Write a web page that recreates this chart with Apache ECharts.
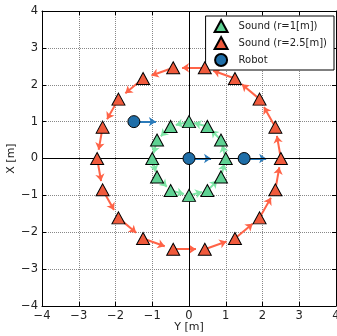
<!DOCTYPE html>
<html>
<head>
<meta charset="utf-8">
<script src="https://cdn.jsdelivr.net/npm/echarts@6/dist/echarts.min.js"></script>
<style>
  html, body { margin: 0; padding: 0; background: #fff; }
  #chart { width: 337px; height: 336px; }
</style>
</head>
<body>
<div id="chart"></div>
<script>
// axis ticks
var tickValues = [-4, -3, -2, -1, 0, 1, 2, 3, 4];

// sound sources on r=1 circle, counter-clockwise order (horizontal = Y, vertical = X)
var soundR1Y = [1, 0.87, 0.5, 0, -0.5, -0.87, -1, -0.87, -0.5, 0, 0.5, 0.87];
var soundR1X = [0, 0.5, 0.87, 1, 0.87, 0.5, 0, -0.5, -0.87, -1, -0.87, -0.5];

// sound sources on r=2.5 circle
var soundR25Y = [2.5, 2.35, 1.92, 1.25, 0.43, -0.43, -1.25, -1.92, -2.35, -2.5, -2.35, -1.92, -1.25, -0.43, 0.43, 1.25, 1.92, 2.35];
var soundR25X = [0, 0.85, 1.61, 2.17, 2.46, 2.46, 2.17, 1.61, 0.85, 0, -0.85, -1.61, -2.17, -2.46, -2.46, -2.17, -1.61, -0.85];

// robots and their heading vectors
var robotY = [-1.5, 0, 1.5];
var robotX = [1, 0, 0];
var robotDY = [0.6, 0.6, 0.6];
var robotDX = [0, 0, 0];

var font = 'DejaVu Sans';

function points(ys, xs) {
  return ys.map(function (v, i) { return [v, xs[i]]; });
}

// arrow from each source toward the next one on its circle
function ringArrows(ys, xs) {
  var out = [];
  for (var i = 0; i < ys.length; i++) {
    var j = (i + 1) % ys.length;
    out.push({ coords: [[ys[i], xs[i]], [ys[i] + 0.72 * (ys[j] - ys[i]), xs[i] + 0.72 * (xs[j] - xs[i])]] });
  }
  return out;
}

function robotArrows() {
  return robotY.map(function (v, i) {
    return { coords: [[v, robotX[i]], [v + robotDY[i], robotX[i] + robotDX[i]]] };
  });
}

var chart = echarts.init(document.getElementById('chart'));

var baseAxis = {
  type: 'value', min: -4, max: 4, interval: 1,
  axisLine: { show: true, onZero: false, lineStyle: { color: '#000', width: 1 } },
  axisTick: { show: true, inside: true, length: 4, lineStyle: { color: '#000' } },
  splitLine: { show: false },
  axisLabel: {
    color: '#222', fontFamily: font, fontSize: 11.5, margin: 4,
    formatter: function (v) { return v < 0 ? '\u2212' + Math.abs(v) : '' + v; }
  }
};

var option = {
  backgroundColor: '#fff',
  animation: false,
  grid: { left: 42, top: 11, right: 1, bottom: 30, show: false, containLabel: false, outerBoundsMode: 'none' },
  legend: {
    orient: 'vertical', right: 3, top: 16,
    padding: [3, 7, 3, 8], itemGap: 3,
    borderColor: '#000', borderWidth: 1, backgroundColor: '#fff',
    itemWidth: 13, itemHeight: 12,
    textStyle: { fontFamily: font, fontSize: 10, color: '#222', padding: [0, 0, 0, 6] },
    data: ['Sound (r=1[m])', 'Sound (r=2.5[m])', 'Robot']
  },
  xAxis: [
    Object.assign({}, baseAxis, {
      position: 'bottom',
      name: 'Y [m]', nameLocation: 'middle', nameGap: 16, nameMoveOverlap: false,
      nameTextStyle: { fontFamily: font, fontSize: 11, color: '#222', verticalAlign: 'top' },
      splitLine: { show: true, lineStyle: { type: 'dotted', color: '#888', width: 1 } }
    }),
    Object.assign({}, baseAxis, { position: 'top', axisLabel: { show: false } })
  ],
  yAxis: [
    Object.assign({}, baseAxis, {
      position: 'left',
      name: 'X [m]', nameLocation: 'middle', nameGap: 25, nameRotate: 90, nameMoveOverlap: false,
      nameTextStyle: { fontFamily: font, fontSize: 11, color: '#222' },
      splitLine: { show: true, lineStyle: { type: 'dotted', color: '#888', width: 1 } }
    }),
    Object.assign({}, baseAxis, { position: 'right', axisLabel: { show: false } })
  ],
  series: [
    {
      type: 'lines', coordinateSystem: 'cartesian2d', z: 3,
      symbol: ['none', 'arrow'], symbolSize: 7,
      lineStyle: { color: '#7ee6a6', width: 2, opacity: 1 },
      data: ringArrows(soundR1Y, soundR1X),
      markLine: {
        silent: true, symbol: 'none', label: { show: false },
        lineStyle: { color: '#000', width: 1, type: 'solid' },
        data: [{ xAxis: 0 }, { yAxis: 0 }]
      }
    },
    {
      type: 'lines', coordinateSystem: 'cartesian2d', z: 3,
      symbol: ['none', 'arrow'], symbolSize: 7,
      lineStyle: { color: '#ff6347', width: 2, opacity: 1 },
      data: ringArrows(soundR25Y, soundR25X)
    },
    {
      type: 'lines', coordinateSystem: 'cartesian2d', z: 3,
      symbol: ['none', 'arrow'], symbolSize: 7,
      lineStyle: { color: '#2b7bba', width: 2, opacity: 1 },
      data: robotArrows()
    },
    {
      name: 'Sound (r=1[m])', type: 'scatter', z: 5,
      symbol: 'triangle', symbolSize: [13, 12],
      itemStyle: { color: '#5ed192', borderColor: '#000', borderWidth: 1, opacity: 1 },
      data: points(soundR1Y, soundR1X)
    },
    {
      name: 'Sound (r=2.5[m])', type: 'scatter', z: 5,
      symbol: 'triangle', symbolSize: [13, 12],
      itemStyle: { color: '#f05a3c', borderColor: '#000', borderWidth: 1, opacity: 1 },
      data: points(soundR25Y, soundR25X)
    },
    {
      name: 'Robot', type: 'scatter', z: 5,
      symbol: 'circle', symbolSize: 12,
      itemStyle: { color: '#1f6ea8', borderColor: '#000', borderWidth: 1, opacity: 1 },
      data: points(robotY, robotX)
    }
  ]
};

chart.setOption(option);
</script>
</body>
</html>
